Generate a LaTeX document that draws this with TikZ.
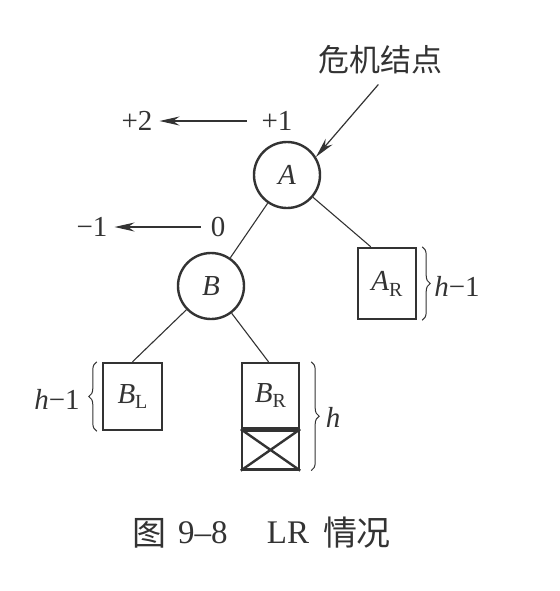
\documentclass[tikz,border=0pt]{standalone}
\usepackage{fontspec}
\setmainfont{Liberation Serif}
\newfontfamily\cjk{Noto Sans CJK SC}
\usetikzlibrary{arrows.meta,decorations.pathreplacing}
\definecolor{ink}{gray}{0.2}
\newcommand\subr[1]{\raisebox{-0.45ex}{\fontsize{10}{10}\selectfont #1}}
\newcommand\cjkbig{\cjk\fontsize{15.5}{17}\selectfont}
\newcommand\capcjk{\cjk\fontsize{17}{19}\selectfont}
\newcommand\caplat{\fontsize{16.5}{18}\selectfont}
\begin{document}
\begin{tikzpicture}[x=0.5pt,y=-0.5pt,
  every node/.style={text=ink, font=\fontsize{14.5}{16}\selectfont},
  circ/.style={circle, draw=ink, line width=1.2pt, minimum size=33pt, inner sep=0pt},
  box/.style={rectangle, draw=ink, line width=1.2pt, inner sep=0pt},
  edge/.style={draw=ink, line width=0.55pt},
  arr/.style={draw=ink, line width=0.6pt, -{Stealth[length=10pt,width=4.5pt]}},
  brc/.style={draw=ink, line width=0.5pt, decorate, decoration={brace, amplitude=4pt}}]
\useasboundingbox (0,0) rectangle (559,591);
% tree nodes
\node[circ] (A) at (287,175) {\textit{A}};
\node[circ] (B) at (211,286) {\textit{B}};
\node[box, minimum width=29pt, minimum height=35.5pt] (AR) at (387,283.5) {\textit{A}\subr{R}};
\node[box, minimum width=29.5pt, minimum height=33.5pt] (BL) at (132.5,396.5) {\textit{B}\subr{L}};
\node[box, minimum width=28.5pt, minimum height=32.5pt] (BR) at (270.5,395.5) {\textit{B}\subr{R}};
\node[box, anchor=north, minimum width=28.5pt, minimum height=19.5pt] (BX) at (BR.south) {};
\draw[ink, line width=1.2pt] (BX.north west) -- (BX.south east) (BX.north east) -- (BX.south west);
% edges
\draw[edge] (A) -- (B);
\draw[edge] (A) -- ([xshift=7pt]AR.north west);
\draw[edge] (B) -- (BL.north);
\draw[edge] (B) -- ([xshift=-1pt]BR.north);
% labels
\node (crit) at (381,60) {\cjkbig 危机结点};
\draw[arr, shorten <=2pt] (crit.south) -- (A.32);
\node (p1) at (277,121) {+1};
\node (p2) at (137,121) {+2};
\draw[arr, shorten <=4pt] (p1) -- (p2);
\node (z0) at (218,227) {0};
\node (m1) at (92,227) {−1};
\draw[arr, shorten <=1.5pt] (z0) -- (m1);
% braces
\draw[brc] ([xshift=-2.5pt]BL.south west) -- ([xshift=-2.5pt]BL.north west);
\node (hBL) at (57,399) {\textit{h}−1};
\draw[brc] ([xshift=2.5pt]AR.north east) -- ([xshift=2.5pt]AR.south east);
\node (hAR) at (457,286) {\textit{h}−1};
\draw[brc] ([xshift=5.5pt]BR.north east) -- ([xshift=5.5pt]BX.south east);
\node (hBR) at (333,417) {\textit{h}};
% caption
\node (c1) at (150,533) {\capcjk 图};
\node (c2) at (203,533) {\caplat 9–8};
\node (c3) at (288,533) {\caplat LR};
\node (c4) at (357,533) {\capcjk 情况};
\end{tikzpicture}
\end{document}
